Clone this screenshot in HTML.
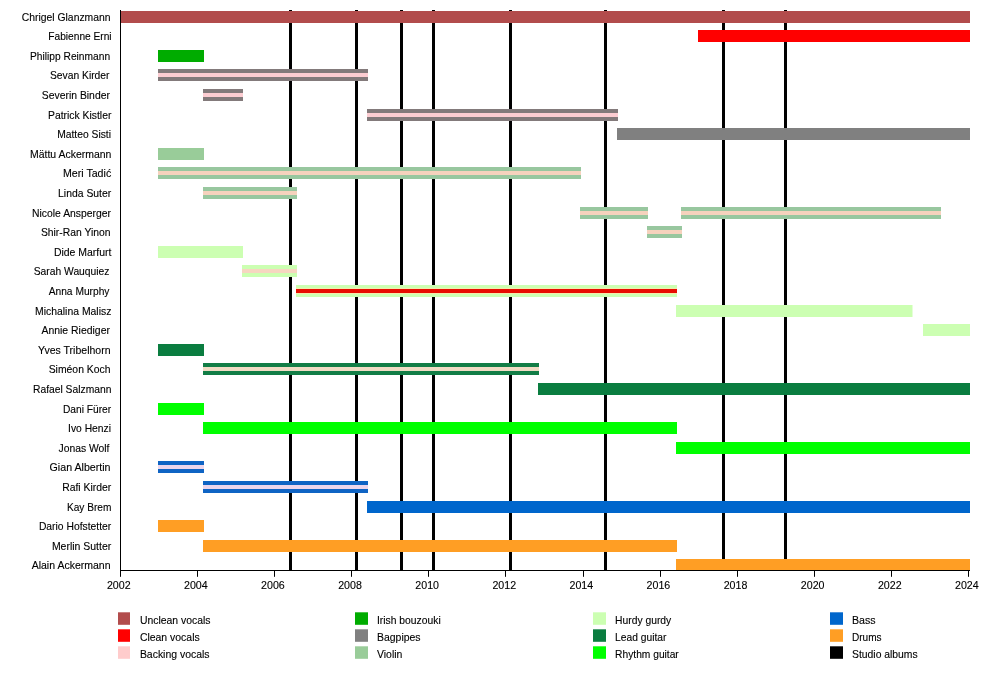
<!DOCTYPE html>
<html lang="en"><head><meta charset="utf-8"><title>Timeline</title>
<style>html,body{margin:0;padding:0;background:#fff}svg{display:block}text{font-family:"Liberation Sans",sans-serif;font-size:11px;fill:#000;stroke:#000;stroke-width:0.12px}</style></head><body>
<svg width="1000" height="690" viewBox="0 0 1000 690">
<rect width="1000" height="690" fill="#fff"/>
<rect x="289.0" y="10" width="3" height="560" fill="#000"/>
<rect x="355.0" y="10" width="3" height="560" fill="#000"/>
<rect x="400.0" y="10" width="3" height="560" fill="#000"/>
<rect x="432.0" y="10" width="3" height="560" fill="#000"/>
<rect x="509.0" y="10" width="3" height="560" fill="#000"/>
<rect x="604.0" y="10" width="3" height="560" fill="#000"/>
<rect x="722.0" y="10" width="3" height="560" fill="#000"/>
<rect x="784.0" y="10" width="3" height="560" fill="#000"/>
<rect x="120.0" y="11.00" width="850.0" height="12.00" fill="#b24c4c"/>
<rect x="698.0" y="30.00" width="272.0" height="12.00" fill="#ff0000"/>
<rect x="158.0" y="50.00" width="46.0" height="12.00" fill="#00ac00"/>
<rect x="158.0" y="69.00" width="210.0" height="12.00" fill="#837a7b"/>
<rect x="158.0" y="73.00" width="210.0" height="4" fill="#fdcdd2"/>
<rect x="203.0" y="89.00" width="40.0" height="12.00" fill="#837a7b"/>
<rect x="203.0" y="93.00" width="40.0" height="4" fill="#fdcdd2"/>
<rect x="367.0" y="109.00" width="251.0" height="12.00" fill="#837a7b"/>
<rect x="367.0" y="113.00" width="251.0" height="4" fill="#fdcdd2"/>
<rect x="617.0" y="128.00" width="353.0" height="12.00" fill="#808080"/>
<rect x="158.0" y="148.00" width="46.0" height="12.00" fill="#99cc99"/>
<rect x="158.0" y="167.00" width="423.0" height="12.00" fill="#98c79f"/>
<rect x="158.0" y="171.00" width="423.0" height="4" fill="#f6d2bd"/>
<rect x="203.0" y="187.00" width="94.0" height="12.00" fill="#98c79f"/>
<rect x="203.0" y="191.00" width="94.0" height="4" fill="#f6d2bd"/>
<rect x="580.0" y="207.00" width="68.0" height="12.00" fill="#98c79f"/>
<rect x="580.0" y="211.00" width="68.0" height="4" fill="#f6d2bd"/>
<rect x="681.0" y="207.00" width="260.0" height="12.00" fill="#98c79f"/>
<rect x="681.0" y="211.00" width="260.0" height="4" fill="#f6d2bd"/>
<rect x="647.0" y="226.00" width="35.0" height="12.00" fill="#98c79f"/>
<rect x="647.0" y="230.00" width="35.0" height="4" fill="#f6d2bd"/>
<rect x="158.0" y="246.00" width="85.0" height="12.00" fill="#ccffb2"/>
<rect x="242.0" y="265.00" width="55.0" height="12.00" fill="#ccffb2"/>
<rect x="242.0" y="269.00" width="55.0" height="4" fill="#f6d6c0"/>
<rect x="296.0" y="285.00" width="381.0" height="12.00" fill="#ccffb2"/>
<rect x="296.0" y="289.00" width="381.0" height="4" fill="#e80c00"/>
<rect x="296.0" y="288.00" width="381.0" height="1" fill="#f3ecac"/>
<rect x="296.0" y="293.00" width="381.0" height="1" fill="#f3ecac"/>
<rect x="676.0" y="305.00" width="236.5" height="12.00" fill="#ccffb2"/>
<rect x="923.0" y="324.00" width="47.0" height="12.00" fill="#ccffb2"/>
<rect x="158.0" y="344.00" width="46.0" height="12.00" fill="#0a7d40"/>
<rect x="203.0" y="363.00" width="336.0" height="12.00" fill="#127d46"/>
<rect x="203.0" y="367.00" width="336.0" height="4" fill="#f0dcc4"/>
<rect x="538.0" y="383.00" width="432.0" height="12.00" fill="#0a7d40"/>
<rect x="158.0" y="403.00" width="46.0" height="12.00" fill="#00ff00"/>
<rect x="203.0" y="422.00" width="474.0" height="12.00" fill="#00ff00"/>
<rect x="676.0" y="442.00" width="294.0" height="12.00" fill="#00ff00"/>
<rect x="158.0" y="461.00" width="46.0" height="12.00" fill="#0f64c4"/>
<rect x="158.0" y="465.00" width="46.0" height="4" fill="#ecd6ec"/>
<rect x="203.0" y="481.00" width="165.0" height="12.00" fill="#0f64c4"/>
<rect x="203.0" y="485.00" width="165.0" height="4" fill="#ecd6ec"/>
<rect x="367.0" y="501.00" width="603.0" height="12.00" fill="#0066cc"/>
<rect x="158.0" y="520.00" width="46.0" height="12.00" fill="#ff9e24"/>
<rect x="203.0" y="540.00" width="474.0" height="12.00" fill="#ff9e24"/>
<rect x="676.0" y="559.00" width="294.0" height="12.00" fill="#ff9e24"/>
<rect x="120" y="10" width="1" height="561" fill="#000"/>
<rect x="120" y="570" width="850" height="1" fill="#000"/>
<rect x="120" y="570" width="1" height="6.8" fill="#000"/>
<text x="106.9" y="588.7" textLength="23.7" lengthAdjust="spacingAndGlyphs">2002</text>
<rect x="197" y="570" width="1" height="6.8" fill="#000"/>
<text x="184.0" y="588.7" textLength="23.7" lengthAdjust="spacingAndGlyphs">2004</text>
<rect x="274" y="570" width="1" height="6.8" fill="#000"/>
<text x="261.1" y="588.7" textLength="23.7" lengthAdjust="spacingAndGlyphs">2006</text>
<rect x="351" y="570" width="1" height="6.8" fill="#000"/>
<text x="338.2" y="588.7" textLength="23.7" lengthAdjust="spacingAndGlyphs">2008</text>
<rect x="428" y="570" width="1" height="6.8" fill="#000"/>
<text x="415.3" y="588.7" textLength="23.7" lengthAdjust="spacingAndGlyphs">2010</text>
<rect x="505" y="570" width="1" height="6.8" fill="#000"/>
<text x="492.4" y="588.7" textLength="23.7" lengthAdjust="spacingAndGlyphs">2012</text>
<rect x="583" y="570" width="1" height="6.8" fill="#000"/>
<text x="569.5" y="588.7" textLength="23.7" lengthAdjust="spacingAndGlyphs">2014</text>
<rect x="660" y="570" width="1" height="6.8" fill="#000"/>
<text x="646.6" y="588.7" textLength="23.7" lengthAdjust="spacingAndGlyphs">2016</text>
<rect x="737" y="570" width="1" height="6.8" fill="#000"/>
<text x="723.7" y="588.7" textLength="23.7" lengthAdjust="spacingAndGlyphs">2018</text>
<rect x="814" y="570" width="1" height="6.8" fill="#000"/>
<text x="800.8" y="588.7" textLength="23.7" lengthAdjust="spacingAndGlyphs">2020</text>
<rect x="891" y="570" width="1" height="6.8" fill="#000"/>
<text x="877.9" y="588.7" textLength="23.7" lengthAdjust="spacingAndGlyphs">2022</text>
<rect x="968" y="570" width="1" height="6.8" fill="#000"/>
<text x="955.0" y="588.7" textLength="23.7" lengthAdjust="spacingAndGlyphs">2024</text>
<text x="21.8" y="20.9" textLength="88.7" lengthAdjust="spacingAndGlyphs">Chrigel Glanzmann</text>
<text x="48.3" y="39.6" textLength="63.3" lengthAdjust="spacingAndGlyphs">Fabienne Erni</text>
<text x="30.0" y="59.7" textLength="80.1" lengthAdjust="spacingAndGlyphs">Philipp Reinmann</text>
<text x="50.0" y="78.7" textLength="59.5" lengthAdjust="spacingAndGlyphs">Sevan Kirder</text>
<text x="41.8" y="98.9" textLength="68.1" lengthAdjust="spacingAndGlyphs">Severin Binder</text>
<text x="48.0" y="118.7" textLength="63.4" lengthAdjust="spacingAndGlyphs">Patrick Kistler</text>
<text x="57.2" y="137.8" textLength="53.8" lengthAdjust="spacingAndGlyphs">Matteo Sisti</text>
<text x="30.0" y="157.8" textLength="81.4" lengthAdjust="spacingAndGlyphs">Mättu Ackermann</text>
<text x="63.0" y="177.4" textLength="48.2" lengthAdjust="spacingAndGlyphs">Meri Tadić</text>
<text x="58.1" y="196.8" textLength="53.1" lengthAdjust="spacingAndGlyphs">Linda Suter</text>
<text x="32.0" y="216.6" textLength="79.0" lengthAdjust="spacingAndGlyphs">Nicole Ansperger</text>
<text x="40.9" y="235.7" textLength="69.6" lengthAdjust="spacingAndGlyphs">Shir-Ran Yinon</text>
<text x="53.9" y="255.7" textLength="57.5" lengthAdjust="spacingAndGlyphs">Dide Marfurt</text>
<text x="33.7" y="275.3" textLength="75.8" lengthAdjust="spacingAndGlyphs">Sarah Wauquiez</text>
<text x="48.7" y="294.8" textLength="60.8" lengthAdjust="spacingAndGlyphs">Anna Murphy</text>
<text x="35.0" y="314.7" textLength="76.4" lengthAdjust="spacingAndGlyphs">Michalina Malisz</text>
<text x="41.5" y="333.7" textLength="68.4" lengthAdjust="spacingAndGlyphs">Annie Riediger</text>
<text x="38.1" y="353.7" textLength="72.4" lengthAdjust="spacingAndGlyphs">Yves Tribelhorn</text>
<text x="48.7" y="373.2" textLength="61.8" lengthAdjust="spacingAndGlyphs">Siméon Koch</text>
<text x="33.0" y="392.8" textLength="78.4" lengthAdjust="spacingAndGlyphs">Rafael Salzmann</text>
<text x="63.0" y="412.6" textLength="48.2" lengthAdjust="spacingAndGlyphs">Dani Fürer</text>
<text x="68.1" y="431.8" textLength="42.9" lengthAdjust="spacingAndGlyphs">Ivo Henzi</text>
<text x="58.5" y="451.9" textLength="51.0" lengthAdjust="spacingAndGlyphs">Jonas Wolf</text>
<text x="49.6" y="471.3" textLength="60.9" lengthAdjust="spacingAndGlyphs">Gian Albertin</text>
<text x="62.2" y="490.7" textLength="49.0" lengthAdjust="spacingAndGlyphs">Rafi Kirder</text>
<text x="66.9" y="510.6" textLength="44.5" lengthAdjust="spacingAndGlyphs">Kay Brem</text>
<text x="38.9" y="529.8" textLength="72.3" lengthAdjust="spacingAndGlyphs">Dario Hofstetter</text>
<text x="51.9" y="549.7" textLength="59.3" lengthAdjust="spacingAndGlyphs">Merlin Sutter</text>
<text x="31.7" y="569.1" textLength="78.8" lengthAdjust="spacingAndGlyphs">Alain Ackermann</text>
<rect x="118.0" y="612.3" width="12" height="12.5" fill="#b24c4c"/>
<text x="139.9" y="623.9" textLength="70.6" lengthAdjust="spacingAndGlyphs">Unclean vocals</text>
<rect x="118.0" y="629.3" width="12" height="12.5" fill="#ff0000"/>
<text x="139.9" y="640.9" textLength="59.8" lengthAdjust="spacingAndGlyphs">Clean vocals</text>
<rect x="118.0" y="646.3" width="12" height="12.5" fill="#ffcccc"/>
<text x="139.9" y="657.9" textLength="69.7" lengthAdjust="spacingAndGlyphs">Backing vocals</text>
<rect x="355.0" y="612.3" width="13" height="12.5" fill="#00ac00"/>
<text x="377.0" y="623.9" textLength="63.7" lengthAdjust="spacingAndGlyphs">Irish bouzouki</text>
<rect x="355.0" y="629.3" width="13" height="12.5" fill="#808080"/>
<text x="377.0" y="640.9" textLength="43.6" lengthAdjust="spacingAndGlyphs">Bagpipes</text>
<rect x="355.0" y="646.3" width="13" height="12.5" fill="#99cc99"/>
<text x="377.0" y="657.9" textLength="25.4" lengthAdjust="spacingAndGlyphs">Violin</text>
<rect x="593.0" y="612.3" width="13" height="12.5" fill="#ccffb2"/>
<text x="615.1" y="623.9" textLength="56.1" lengthAdjust="spacingAndGlyphs">Hurdy gurdy</text>
<rect x="593.0" y="629.3" width="13" height="12.5" fill="#0a7d40"/>
<text x="615.1" y="640.9" textLength="51.3" lengthAdjust="spacingAndGlyphs">Lead guitar</text>
<rect x="593.0" y="646.3" width="13" height="12.5" fill="#00ff00"/>
<text x="615.1" y="657.9" textLength="63.7" lengthAdjust="spacingAndGlyphs">Rhythm guitar</text>
<rect x="830.0" y="612.3" width="13" height="12.5" fill="#0066cc"/>
<text x="852.0" y="623.9" textLength="23.6" lengthAdjust="spacingAndGlyphs">Bass</text>
<rect x="830.0" y="629.3" width="13" height="12.5" fill="#ff9e24"/>
<text x="852.0" y="640.9" textLength="29.6" lengthAdjust="spacingAndGlyphs">Drums</text>
<rect x="830.0" y="646.3" width="13" height="12.5" fill="#000000"/>
<text x="852.0" y="657.9" textLength="65.7" lengthAdjust="spacingAndGlyphs">Studio albums</text>
</svg></body></html>
